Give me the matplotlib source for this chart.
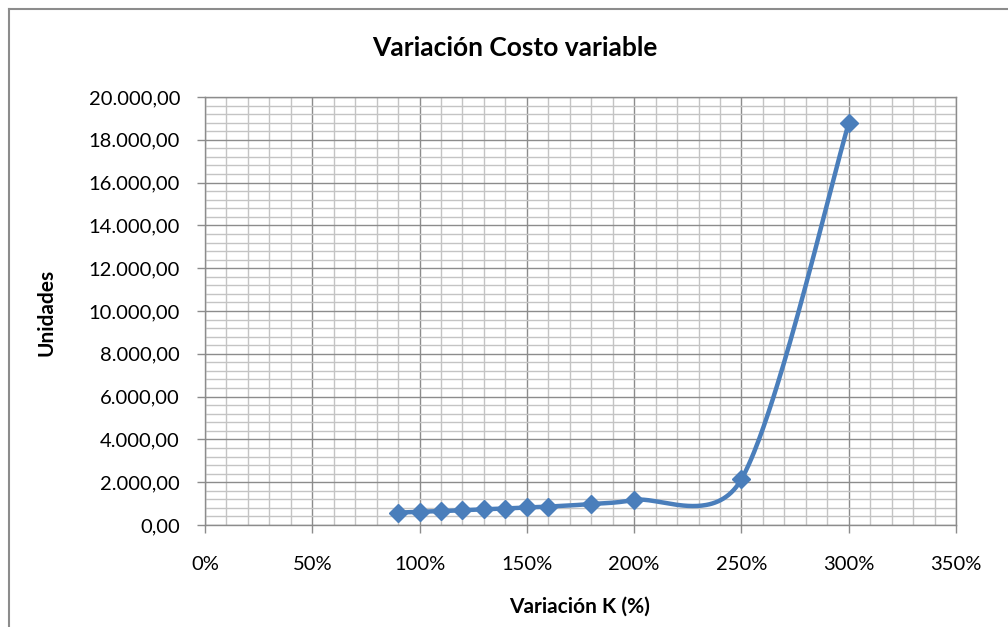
import numpy as np
import matplotlib
matplotlib.use("Agg")
import matplotlib.pyplot as plt
from matplotlib.ticker import MultipleLocator, FuncFormatter
from matplotlib.lines import Line2D

# Data: variation of K (%) and resulting units
variacion_k = [90, 100, 110, 120, 130, 140, 150, 160, 180, 200, 250, 300]
unidades = [580, 620, 650, 690, 730, 770, 820, 860, 980, 1170, 2140, 18770]

title = "Variación Costo variable"
x_label = "Variación K (%)"
y_label = "Unidades"

FONT = ["Lato", "DejaVu Sans"]
BLUE = "#4a7ebb"
MAJOR_GRID = "#8c8c8c"
MINOR_GRID = "#c4c4c4"

W, H = 1008, 627
X_LIM, Y_LIM = (0, 350), (0, 20000)
AX_LEFT, AX_RIGHT, AX_TOP, AX_BOTTOM = 205, 956, 97, 525


def smooth_curve(xs, ys, sx, sy, n=80):
    """Bezier smoothing of a polyline (spreadsheet-style smoothed lines).

    Control points follow the neighbouring chord with a 1/6 factor, capped so
    that a handle never exceeds half of its segment (measured on screen)."""
    pts = np.column_stack([np.asarray(xs, float) * sx, np.asarray(ys, float) * sy])
    out = [pts[0]]
    for i in range(len(pts) - 1):
        p0 = pts[i - 1] if i > 0 else pts[i]
        p1 = pts[i]
        p2 = pts[i + 1]
        p3 = pts[i + 2] if i + 2 < len(pts) else pts[i + 1]
        d12 = np.linalg.norm(p2 - p1)
        d02 = np.linalg.norm(p2 - p0)
        d13 = np.linalg.norm(p3 - p1)
        f1 = 1 / 6 if d02 / 6 < d12 / 2 else (d12 / 2) / d02
        f2 = 1 / 6 if d13 / 6 < d12 / 2 else (d12 / 2) / d13
        c1 = p1 + (p2 - p0) * f1
        c2 = p2 - (p3 - p1) * f2
        t = np.linspace(0, 1, n)[1:, None]
        seg = ((1 - t) ** 3) * p1 + 3 * ((1 - t) ** 2) * t * c1 \
            + 3 * (1 - t) * t ** 2 * c2 + t ** 3 * p2
        out.extend(seg)
    out = np.array(out)
    return out[:, 0] / sx, out[:, 1] / sy


fig = plt.figure(figsize=(10.08, 6.27), dpi=100)
ax = fig.add_axes([AX_LEFT / W, 1 - AX_BOTTOM / H,
                   (AX_RIGHT - AX_LEFT) / W, (AX_BOTTOM - AX_TOP) / H])

ax.set_xlim(*X_LIM)
ax.set_ylim(*Y_LIM)
ax.xaxis.set_major_locator(MultipleLocator(50))
ax.xaxis.set_minor_locator(MultipleLocator(10))
ax.yaxis.set_major_locator(MultipleLocator(2000))
ax.yaxis.set_minor_locator(MultipleLocator(400))

ax.grid(which="minor", color=MINOR_GRID, linewidth=1.0, zorder=0)
ax.grid(which="major", color=MAJOR_GRID, linewidth=1.0, zorder=0)
ax.set_axisbelow(True)


def fmt_units(v, _pos):
    s = f"{v:,.2f}"
    return s.replace(",", "X").replace(".", ",").replace("X", ".")


ax.yaxis.set_major_formatter(FuncFormatter(fmt_units))
ax.xaxis.set_major_formatter(FuncFormatter(lambda v, _p: f"{int(round(v))}%"))

ax.tick_params(which="major", length=6, width=1, color=MAJOR_GRID, labelsize=14.5)
ax.tick_params(which="minor", length=0)
ax.tick_params(axis="x", pad=16)
ax.tick_params(axis="y", pad=12)
for lbl in ax.get_xticklabels() + ax.get_yticklabels():
    lbl.set_family(FONT)

for side in ("top", "right", "left", "bottom"):
    ax.spines[side].set_color(MAJOR_GRID)
    ax.spines[side].set_linewidth(1.0)

px_per_x = (AX_RIGHT - AX_LEFT) / (X_LIM[1] - X_LIM[0])
px_per_y = (AX_BOTTOM - AX_TOP) / (Y_LIM[1] - Y_LIM[0])
cx, cy = smooth_curve(variacion_k, unidades, px_per_x, px_per_y)
ax.plot(cx, cy, color=BLUE, linewidth=3.2, solid_capstyle="round", zorder=3)
ax.plot(variacion_k, unidades, linestyle="none", marker="D", markersize=9.5,
        color=BLUE, markeredgecolor=BLUE, zorder=4)

fig.text(515 / W, 1 - 48 / H, title, ha="center", va="center",
         fontsize=19, fontweight="bold", family=FONT)
fig.text(580 / W, 1 - 607 / H, x_label, ha="center", va="center",
         fontsize=15, fontweight="bold", family=FONT)
fig.text(46 / W, 1 - 312 / H, y_label, ha="center", va="center",
         rotation=90, fontsize=15, fontweight="bold", family=FONT)

# chart frame
fig.add_artist(Line2D([8.5 / W, 8.5 / W], [0, 1 - 8.5 / H], color="#8c8c8c",
                      linewidth=1.5, transform=fig.transFigure))
fig.add_artist(Line2D([8.5 / W, 1], [1 - 8.5 / H, 1 - 8.5 / H], color="#8c8c8c",
                      linewidth=1.5, transform=fig.transFigure))

fig.savefig("out.png", dpi=100)
